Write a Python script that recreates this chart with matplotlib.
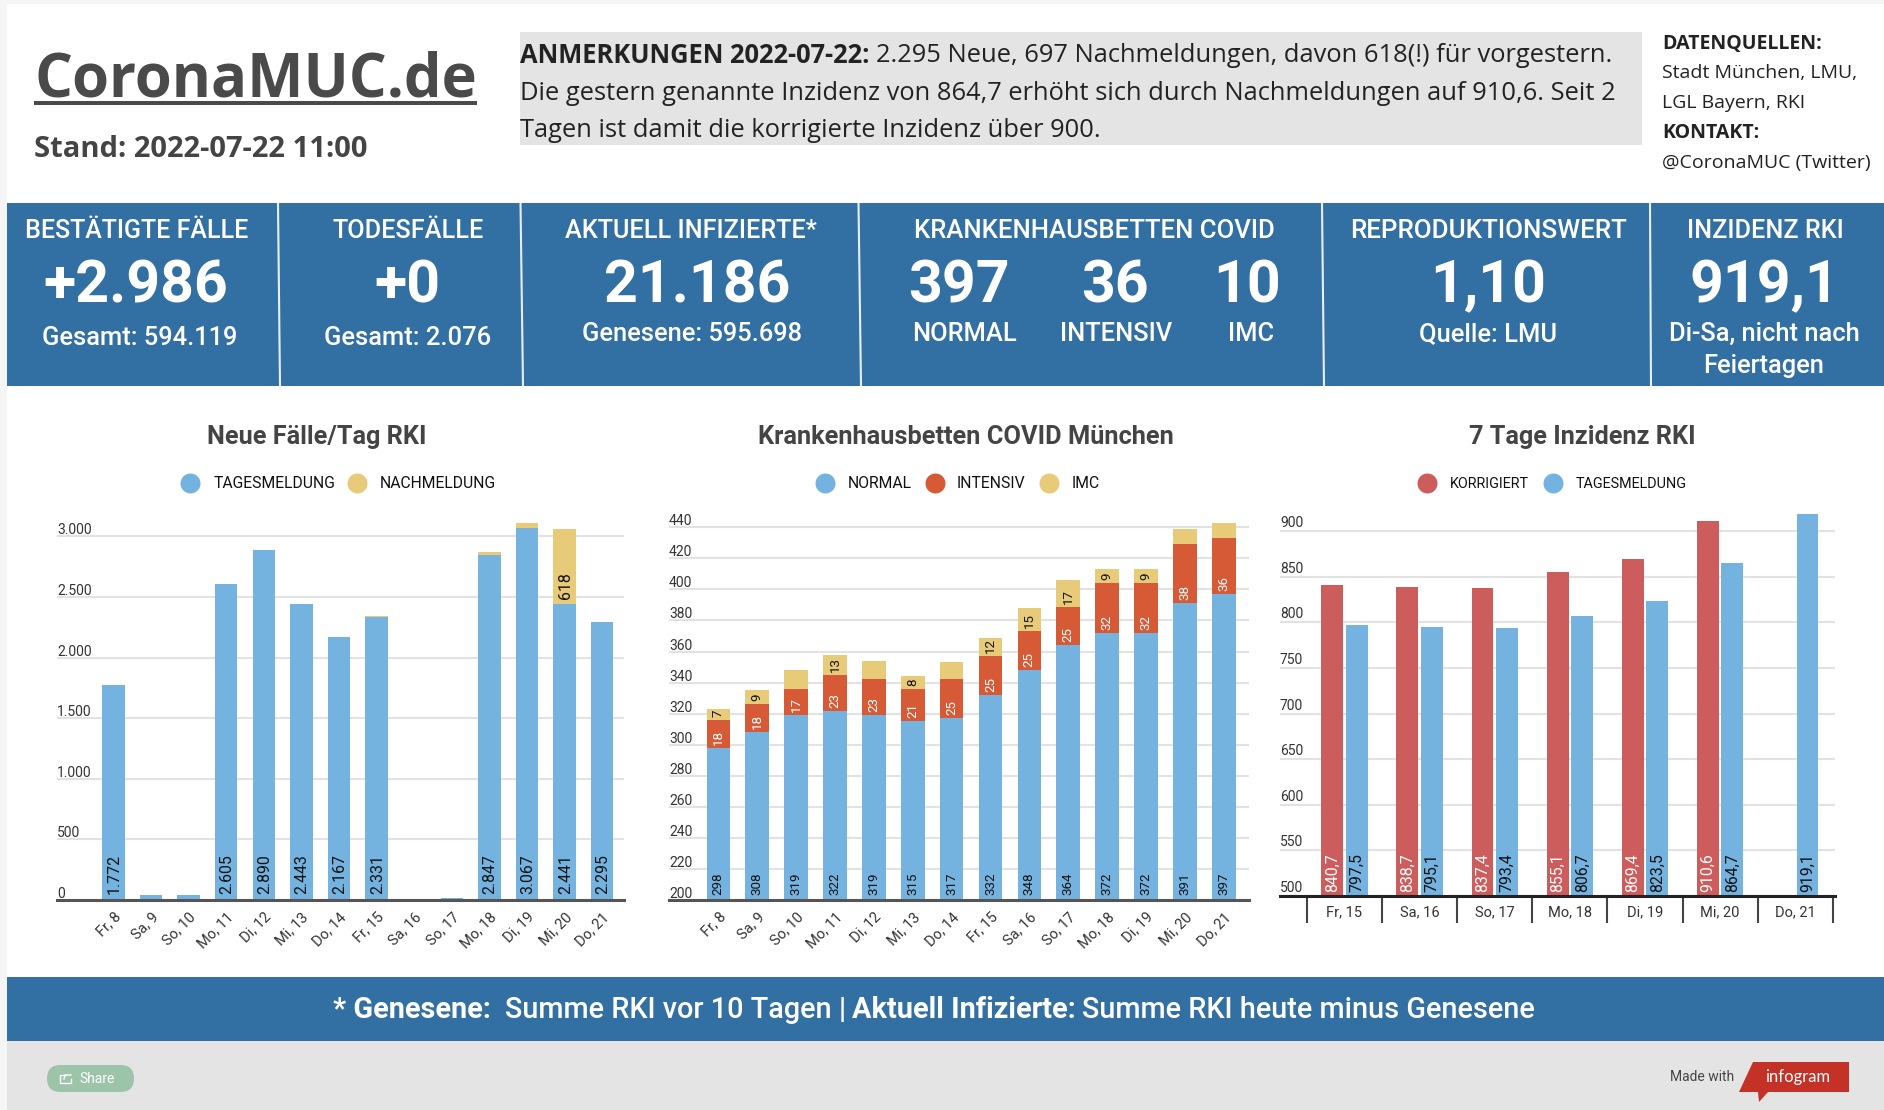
# -*- coding: utf-8 -*-
# CoronaMUC.de dashboard 2022-07-22
import numpy as np
import matplotlib
matplotlib.use('Agg')
import matplotlib.pyplot as plt
from matplotlib.patches import Rectangle, Polygon, FancyBboxPatch
from matplotlib.transforms import ScaledTranslation

plt.rcParams['font.family'] = ['Roboto', 'DejaVu Sans']

# ---------------------------------------------------------------- data
days = ['Fr, 8', 'Sa, 9', 'So, 10', 'Mo, 11', 'Di, 12', 'Mi, 13', 'Do, 14',
        'Fr, 15', 'Sa, 16', 'So, 17', 'Mo, 18', 'Di, 19', 'Mi, 20', 'Do, 21']
tagesmeldung = [1772, 40, 40, 2605, 2890, 2443, 2167, 2331, 0, 20, 2847, 3067, 2441, 2295]
nachmeldung = [0, 0, 0, 0, 0, 0, 0, 12, 0, 0, 24, 41, 618, 0]

normal = [298, 308, 319, 322, 319, 315, 317, 332, 348, 364, 372, 372, 391, 397]
intensiv = [18, 18, 17, 23, 23, 21, 25, 25, 25, 25, 32, 32, 38, 36]
imc = [7, 9, 12, 13, 12, 8, 11, 12, 15, 17, 9, 9, 10, 10]
imc_labels = ['7', '9', '', '13', '', '8', '', '12', '15', '17', '9', '9', '', '']

inz_days = ['Fr, 15', 'Sa, 16', 'So, 17', 'Mo, 18', 'Di, 19', 'Mi, 20', 'Do, 21']
korrigiert = [840.7, 838.7, 837.4, 855.1, 869.4, 910.6, np.nan]
inz_tages = [797.5, 795.1, 793.4, 806.7, 823.5, 864.7, 919.1]

C_BAND = '#326fa3'
C_BLUE = '#74b3e0'
C_YELLOW = '#e8cb78'
C_ORANGE = '#d65a35'
C_RED = '#cd5c5c'
C_GRID = '#e2e2e2'
C_DARK = '#444444'

W, H = 1884, 1110
fig = plt.figure(figsize=(W / 100, H / 100), dpi=100, facecolor='white')
bg = fig.add_axes([0, 0, 1, 1])
bg.set_xlim(0, W)
bg.set_ylim(H, 0)
bg.axis('off')


def px(n):
    return n * 0.72


def label(x, y, s, size, weight='normal', color='white', ha='center', family='Roboto', **kw):
    return bg.text(x, y, s, fontsize=size, fontweight=weight, color=color, ha=ha,
                   va='center', family=family, **kw)


def runs(x, y, parts, size, color, family, center=False):
    # text with bold and normal pieces in one line
    r = fig.canvas.get_renderer()
    made = []
    pos = x
    for s, weight, gap in parts:
        t = bg.text(pos, y, s, fontsize=size, fontweight=weight, color=color, ha='left',
                    va='center', family=family)
        pos += t.get_window_extent(r).width + gap
        made.append(t)
    if center:
        shift = (pos - x) / 2
        for t in made:
            t.set_x(t.get_position()[0] - shift)


# ---------------------------------------------------------------- background
bg.add_patch(Rectangle((0, 0), W, 4, color='#f5f5f5', lw=0))
bg.add_patch(Rectangle((0, 0), 7, H, color='#f5f5f5', lw=0))
bg.add_patch(Rectangle((7, 203), W, 183, color=C_BAND, lw=0))
bg.add_patch(Rectangle((7, 977), W, 64, color=C_BAND, lw=0))
bg.add_patch(Rectangle((7, 1041), W, 69, color='#e4e4e4', lw=0))
bg.add_patch(Rectangle((520, 32), 1122, 113, color='#e4e4e4', lw=0))

for x0, x1 in [(278, 280), (520.5, 523), (858.5, 861), (1322, 1324), (1650, 1651)]:
    bg.plot([x0, x1], [203, 386], color='#e8eef4', lw=1.5, solid_capstyle='butt')

# ---------------------------------------------------------------- header
label(34, 81, 'CoronaMUC.de', 43, 'bold', '#4a4a4a', 'left', 'Open Sans')
bg.add_patch(Rectangle((34, 101), 443, 3.5, color='#4a4a4a', lw=0))
label(34, 149.5, 'Stand: 2022-07-22 11:00', 21, 'bold', C_DARK, 'left', 'Open Sans')

runs(520, 55.5, [('ANMERKUNGEN 2022-07-22:', 'bold', 7),
                 ('2.295 Neue, 697 Nachmeldungen, davon 618(!) für vorgestern.', 'normal', 0)],
     18.4, '#222222', 'Open Sans')
label(520, 93, 'Die gestern genannte Inzidenz von 864,7 erhöht sich durch Nachmeldungen auf 910,6. Seit 2',
      18.4, color='#222222', ha='left', family='Open Sans')
label(520, 130.5, 'Tagen ist damit die korrigierte Inzidenz über 900.', 18.4, color='#222222',
      ha='left', family='Open Sans')

label(1662.5, 44, 'DATENQUELLEN:', 14, 'bold', '#222222', 'left', 'Open Sans')
label(1662.5, 73.5, 'Stadt München, LMU,', 14, color='#222222', ha='left', family='Open Sans')
label(1662.5, 103.5, 'LGL Bayern, RKI', 14, color='#222222', ha='left', family='Open Sans')
label(1662.5, 133.5, 'KONTAKT:', 14, 'bold', '#222222', 'left', 'Open Sans')
label(1662.5, 163, '@CoronaMUC (Twitter)', 14, color='#222222', ha='left', family='Open Sans')

# ---------------------------------------------------------------- kpi band
for x, s, size in [(137, 'BESTÄTIGTE FÄLLE', 18), (407.7, 'TODESFÄLLE', 18.2), (690.6, 'AKTUELL INFIZIERTE*', 18.2),
                   (1094.6, 'KRANKENHAUSBETTEN COVID', 18.5), (1488, 'REPRODUKTIONSWERT', 18.7),
                   (1765, 'INZIDENZ RKI', 18.2)]:
    label(x, 231, s, size, 500)
for x, s in [(136, '+2.986'), (407.7, '+0'), (697, '21.186'), (959, '397'), (1114.6, '36'),
             (1247, '10'), (1488, '1,10'), (1764, '919,1')]:
    label(x, 286.5, s, 42.5, 'bold')
for x, y, s in [(140, 338, 'Gesamt: 594.119'), (407.7, 338, 'Gesamt: 2.076'), (692.4, 334, 'Genesene: 595.698'),
                (965, 334, 'NORMAL'), (1116, 334, 'INTENSIV'), (1250.7, 334, 'IMC'), (1488, 334, 'Quelle: LMU'),
                (1764, 334, 'Di-Sa, nicht nach'), (1764, 366, 'Feiertagen')]:
    label(x, y, s, 18.4, 500)

# ---------------------------------------------------------------- footer
runs(934, 1010.5, [('* Genesene:', 'bold', 14), ('Summe RKI vor 10 Tagen |', 500, 6),
                   ('Aktuell Infizierte:', 'bold', 6), ('Summe RKI heute minus Genesene', 500, 0)],
     20.8, 'white', 'Roboto', center=True)

bg.add_patch(FancyBboxPatch((60.5, 1078.5), 60, 0, boxstyle='round,pad=13.5,rounding_size=13.5',
                            fc='#9bc4a8', ec='none'))
label(97, 1079, 'Share', 10, color='white')
bg.plot([65, 60, 60, 71, 71], [1075, 1075, 1083, 1083, 1079], color='white', lw=1)
bg.plot([64, 65, 71], [1079, 1075, 1075], color='white', lw=1)
bg.add_patch(Polygon([(1753, 1062), (1849, 1062), (1849, 1092), (1768, 1092), (1759, 1102),
                      (1758, 1092), (1739, 1092)], closed=True, fc='#c33127', ec='none'))
label(1702, 1077, 'Made with', 10, color='#444444')
label(1798, 1077, 'infogram', 12, color='white', family='Lato')


# ---------------------------------------------------------------- charts
def chart_axes(left, top, right, bottom, xlim, ylim, yticks, base_color, nudge):
    ax = fig.add_axes([left / W, 1 - bottom / H, (right - left) / W, (bottom - top) / H])
    ax.patch.set_alpha(0)
    ax.set_xlim(*xlim)
    ax.set_ylim(*ylim)
    for side in ['top', 'left', 'right']:
        ax.spines[side].set_visible(False)
    ax.spines['bottom'].set_color(base_color)
    ax.spines['bottom'].set_linewidth(2.2)
    ax.spines['bottom'].set_zorder(5)
    ax.set_axisbelow(True)
    ax.grid(axis='y', color=C_GRID, lw=1.5)
    ax.set_yticks(yticks)
    ax.set_yticklabels([f'{v:,}'.replace(',', '.') for v in yticks], fontsize=10, color='#333333')
    ax.tick_params(axis='y', length=0, pad=0)
    shift = ScaledTranslation(0, nudge / 100, fig.dpi_scale_trans)
    for t in ax.get_yticklabels():
        t.set_ha('left')
        t.set_va('bottom')
        t.set_transform(t.get_transform() + shift)
    return ax


def day_ticks(ax):
    ax.set_xticks(range(len(days)))
    ax.set_xticklabels(days, rotation=45, ha='right', rotation_mode='anchor',
                       fontsize=10.5, color='#333333')
    ax.tick_params(axis='x', length=0, pad=7)


def inside(ax, x, y, s, size, color, off):
    ax.annotate(s, (x, y), xytext=(0, px(off)), textcoords='offset points', rotation=90,
                ha='center', va='bottom', fontsize=size, color=color)


def legend(items, y, size):
    for cx, tx, color, s in items:
        bg.plot([cx], [y], marker='o', ms=px(20), color=color, mec='none')
        label(tx, y + 1, s, size, color='#111111', ha='left')


# Neue Faelle
label(317, 437, 'Neue Fälle/Tag RKI', 18.2, 'bold', C_DARK)
legend([(190, 213.5, C_BLUE, 'TAGESMELDUNG'), (357, 380, C_YELLOW, 'NACHMELDUNG')], 483, 11.3)
ax1 = chart_axes(57, 518.2, 624, 900, (-1.5, 13.58), (0, 3150), [0, 500, 1000, 1500, 2000, 2500, 3000],
                 '#555555', -1)
x = np.arange(len(days))
ax1.bar(x, tagesmeldung, width=0.6, color=C_BLUE, zorder=3)
ax1.bar(x, nachmeldung, width=0.6, bottom=tagesmeldung, color=C_YELLOW, zorder=3)
day_ticks(ax1)
for i, v in enumerate(tagesmeldung):
    if v >= 500:
        inside(ax1, i + 0.02, 0, f'{v:,}'.replace(',', '.'), 11.4, '#111111', 6)
    if nachmeldung[i] >= 100:
        inside(ax1, i + 0.02, v, str(nachmeldung[i]), 11.4, '#111111', 5)

# Krankenhausbetten
label(966, 437, 'Krankenhausbetten COVID München', 18.3, 'bold', C_DARK)
legend([(825, 847.6, C_BLUE, 'NORMAL'), (934.6, 957, C_ORANGE, 'INTENSIV'), (1048.9, 1071.4, C_YELLOW, 'IMC')], 483, 11.3)
ax2 = chart_axes(669, 518, 1249, 900, (-1.27, 13.65), (200, 446), list(range(200, 441, 20)), '#555555', -1)
x = np.arange(len(days))
base2 = np.array(normal)
top2 = base2 + np.array(intensiv)
ax2.bar(x, normal, width=0.61, color=C_BLUE, zorder=3)
ax2.bar(x, intensiv, width=0.61, bottom=base2, color=C_ORANGE, zorder=3)
ax2.bar(x, imc, width=0.61, bottom=top2, color=C_YELLOW, zorder=3)
day_ticks(ax2)
for i in range(len(days)):
    inside(ax2, i, 200, str(normal[i]), 9.6, '#111111', 5)
    inside(ax2, i, base2[i], str(intensiv[i]), 9.6, 'white', 3)
    if imc_labels[i]:
        inside(ax2, i, top2[i], imc_labels[i], 9.6, '#111111', 3)

# 7 Tage Inzidenz
label(1582, 437, '7 Tage Inzidenz RKI', 18.2, 'bold', C_DARK)
legend([(1427, 1450, C_RED, 'KORRIGIERT'), (1552.5, 1575.6, C_BLUE, 'TAGESMELDUNG')], 483, 10.4)
ax3 = chart_axes(1280, 508.2, 1835, 896, (-0.858, 6.53), (500, 925), list(range(500, 901, 50)), '#222222', 1)
xi = np.arange(len(inz_days))
ax3.bar(xi - 0.163, korrigiert, width=0.291, color=C_RED, zorder=3)
ax3.bar(xi + 0.163, inz_tages, width=0.291, color=C_BLUE, zorder=3)
ax3.set_xticks(np.arange(len(inz_days) + 1) - 0.5)
ax3.set_xticklabels([])
ax3.tick_params(axis='x', which='major', length=px(27), width=1.5, color='#444444')
ax3.set_xticks(xi, minor=True)
ax3.set_xticklabels(inz_days, minor=True, fontsize=10.5, color='#333333')
ax3.tick_params(axis='x', which='minor', length=0, pad=6.5)
for i in xi:
    if not np.isnan(korrigiert[i]):
        inside(ax3, i - 0.163, 500, f'{korrigiert[i]:.1f}'.replace('.', ','), 11.4, 'white', 4)
    inside(ax3, i + 0.163, 500, f'{inz_tages[i]:.1f}'.replace('.', ','), 11.4, '#111111', 4)

fig.savefig('out.png', dpi=100)
